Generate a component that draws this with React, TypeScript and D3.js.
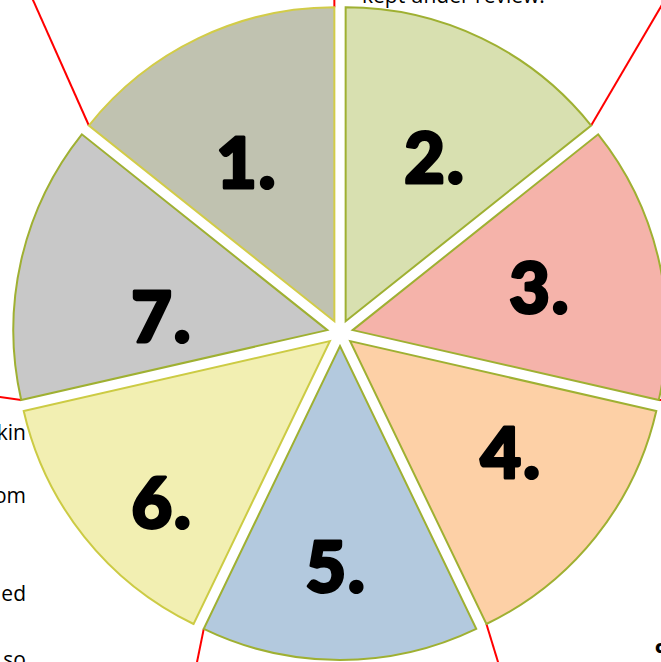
import React from "react";
import * as d3 from "d3";

// ---- data ----
const categories = ["1.", "2.", "3.", "4.", "5.", "6.", "7."];
const values = [1, 1, 1, 1, 1, 1, 1];
const fills = ["#c0c2b0", "#d8e0b0", "#f5b3aa", "#fdd0a6", "#b3c9de", "#f2efb2", "#c8c8c8"];
const strokes = ["#d2cc48", "#9fb032", "#9fb032", "#9fb032", "#9fb032", "#cccb44", "#9fb032"];
const sideNotes = ["kin", "om", "ed", "so"];
const topNote = "kept under review.";

// ---- layout ----
const W = 661;
const H = 662;
const CX = 340;
const CY = 333;
const R = 314;
const EXPLODE = 13;
const LABEL_SIZE = 70;
// per-slice label placement (distance from slice apex, angle shift in degrees)
const labelDist = [181, 186, 192, 196, 221, 233, 166];
const labelShift = [-3.2, 3, 0, -3.8, 1, -5.4, -8.1];
// leader lines: slice index, which corner (0 start / 1 end), direction deg, length
const leaders: [number, number, number, number][] = [
  [0, 0, -24, 200],
  [0, 1, 0, 40],
  [1, 1, 30.4, 200],
  [2, 1, 90, 60],
  [3, 1, 163, 80],
  [4, 1, 191.5, 80],
  [6, 0, 278, 60],
];
const sideNoteY = [440, 503, 601, 667];

const polar = (a: number, r: number): [number, number] => [Math.sin(a) * r, -Math.cos(a) * r];

export default function App() {
  const pie = d3
    .pie<number>()
    .sort(null)
    .startAngle(-2 * Math.PI / 7)
    .endAngle(2 * Math.PI - 2 * Math.PI / 7)
    .padAngle(0)(values);
  const arc = d3.arc<d3.PieArcDatum<number>>().innerRadius(0).outerRadius(R);

  const slices = pie.map((d, i) => {
    const mid = (d.startAngle + d.endAngle) / 2;
    const [ox, oy] = polar(mid, EXPLODE);
    const apex: [number, number] = [CX + ox, CY + oy];
    const la = mid + (labelShift[i] * Math.PI) / 180;
    const [lx, ly] = polar(la, labelDist[i]);
    return { d, i, mid, apex, label: [apex[0] + lx, apex[1] + ly] };
  });

  return (
    <svg
      width={W}
      height={H}
      style={{ position: "absolute", left: 0, top: 0, background: "#fff" }}
    >
      {leaders.map(([si, corner, deg, len], k) => {
        const s = slices[si];
        const a = corner === 0 ? s.d.startAngle : s.d.endAngle;
        const [px, py] = polar(a, R);
        const x1 = s.apex[0] + px;
        const y1 = s.apex[1] + py;
        const [dx, dy] = polar((deg * Math.PI) / 180, len);
        return <line key={k} x1={x1} y1={y1} x2={x1 + dx} y2={y1 + dy} stroke="#ff0000" strokeWidth={2} />;
      })}
      {slices.map((s) => (
        <path
          key={s.i}
          d={arc(s.d) || ""}
          transform={`translate(${s.apex[0]},${s.apex[1]})`}
          fill={fills[s.i]}
          stroke={strokes[s.i]}
          strokeWidth={2}
          strokeLinejoin="miter"
        />
      ))}
      {slices.map((s) => (
        <text
          key={"l" + s.i}
          x={s.label[0]}
          y={s.label[1] + LABEL_SIZE * 0.36}
          textAnchor="middle"
          fontFamily="'Arial Black', Lato, 'DejaVu Sans', sans-serif"
          fontWeight={900}
          fontSize={LABEL_SIZE}
          fill="#000"
          stroke="#000"
          strokeWidth={3}
          strokeLinejoin="round"
          letterSpacing={2}
        >
          {categories[s.i]}
        </text>
      ))}
      <text x={362} y={3} fontFamily="'Open Sans', sans-serif" fontSize={21} fill="#000">
        {topNote}
      </text>
      {sideNotes.map((t, k) => (
        <text
          key={"n" + k}
          x={26}
          y={sideNoteY[k]}
          textAnchor="end"
          fontFamily="'Open Sans', sans-serif"
          fontSize={21}
          fill="#000"
        >
          {t}
        </text>
      ))}
      <text x={655} y={653} fontFamily="'Open Sans', sans-serif" fontWeight={800} fontSize={18} fill="#000">
        c
      </text>
    </svg>
  );
}
